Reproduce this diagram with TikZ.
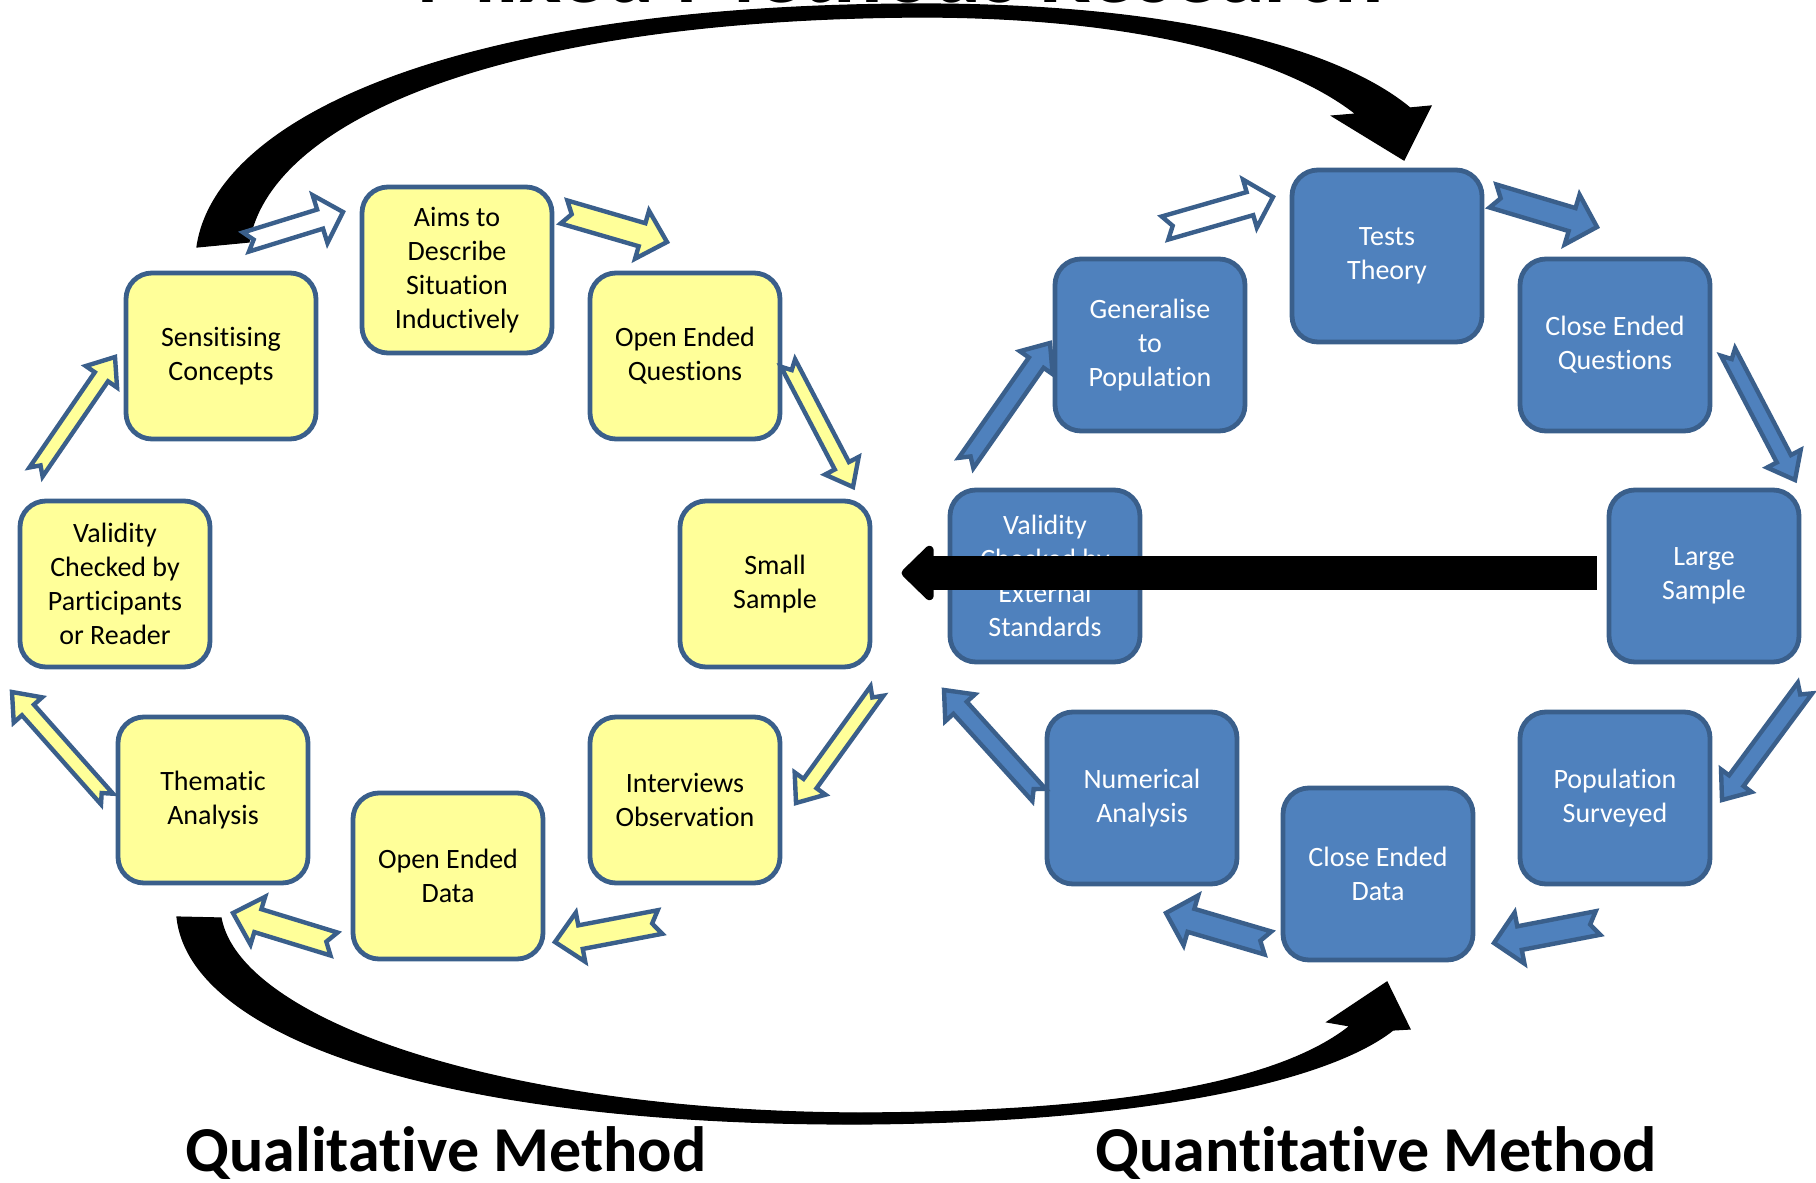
\documentclass[tikz,border=0pt]{standalone}
\usepackage{fontspec}
\setmainfont{Carlito}[Ligatures=NoCommon]
\usetikzlibrary{calc,arrows.meta}

\definecolor{edgeblue}{HTML}{3A5F8B}
\definecolor{paleyellow}{HTML}{FFFF99}
\definecolor{fillblue}{HTML}{4F81BD}

\tikzset{
  stage/.style={rectangle, rounded corners=13pt, draw=edgeblue, line width=2.4pt,
    minimum width=95pt, align=center, inner sep=0pt,
    font=\fontsize{14}{17}\selectfont},
  qual/.style={stage, fill=paleyellow, text=black, minimum height=83pt},
  quant/.style={stage, fill=fillblue, text=white, minimum height=86pt},
  cyc/.style={draw=edgeblue, line width=2.2pt, line join=miter},
  hollowarr/.style={cyc, fill=white},
  yellowarr/.style={cyc, fill=paleyellow},
  bluearr/.style={cyc, fill=fillblue},
  bigarc/.style={fill=black, draw=black, line width=0.6pt},
  heading/.style={inner sep=0pt, font=\bfseries\fontsize{32}{38}\selectfont}
}

% notched block arrow: #1 style, #2 tail, #3 tip, #4 shaft half width,
% #5 head half width, #6 head length
\newcommand\cyclearrow[6]{%
  \coordinate (ca-tail) at #2;
  \coordinate (ca-tip) at #3;
  \coordinate (ca-base) at ($(ca-tip)!#6!(ca-tail)$);
  \draw[#1] ($(ca-tail)!#4!90:(ca-tip)$)
    -- ($(ca-base)!#4!90:(ca-tip)$)
    -- ($(ca-base)!#5!90:(ca-tip)$)
    -- (ca-tip)
    -- ($(ca-base)!#5!-90:(ca-tip)$)
    -- ($(ca-base)!#4!-90:(ca-tip)$)
    -- ($(ca-tail)!#4!-90:(ca-tip)$)
    -- ($(ca-tail)!4pt!(ca-tip)$) -- cycle;
}

\begin{document}
\begin{tikzpicture}[x=0.5pt, y=-0.5pt]
\useasboundingbox (0,0) rectangle (1816,1183);

% title, mostly above the page edge
\node[inner sep=0pt, font=\bfseries\fontsize{46}{52}\selectfont, anchor=base]
  (maintitle) at (900,3) {Mixed Methods Research};

% large curved arrow over the top
\path[bigarc] (197,247) .. controls (215,120) and (450,5) .. (920,4)
  .. controls (1180,4) and (1340,50) .. (1410,108)
  -- (1431,106) -- (1404,160) -- (1332,116) -- (1356,114)
  .. controls (1290,62) and (1150,17) .. (920,17)
  .. controls (500,19) and (270,120) .. (249,242) -- cycle;

% large curved arrow along the bottom
\path[bigarc] (177,917) .. controls (190,1040) and (450,1125) .. (860,1124)
  .. controls (1150,1122) and (1330,1080) .. (1393,1030)
  -- (1410,1029) -- (1387,982) -- (1327,1022) -- (1350,1026)
  .. controls (1280,1082) and (1120,1112) .. (860,1113)
  .. controls (500,1112) and (240,1020) .. (221,918) -- cycle;

% qualitative cycle
\node[qual] (sens)   at (221,356) {Sensitising\\Concepts};
\node[qual] (aims)   at (457,270) {Aims to\\Describe\\Situation\\Inductively};
\node[qual] (oeq)    at (685,356) {Open Ended\\Questions};
\node[qual] (valq)   at (115,584) {Validity\\Checked by\\Participants\\or Reader};
\node[qual] (small)  at (775,584) {Small\\Sample};
\node[qual] (them)   at (213,800) {Thematic\\Analysis};
\node[qual] (oed)    at (448,876) {Open Ended\\Data};
\node[qual] (interv) at (685,800) {Interviews\\Observation};

% quantitative cycle
\node[quant] (tests)   at (1387,256) {Tests\\Theory};
\node[quant] (gen)     at (1150,345) {Generalise\\to\\Population};
\node[quant] (ceq)     at (1615,345) {Close Ended\\Questions};
\node[quant] (valn)    at (1045,576) {Validity\\Checked by\\External\\Standards};
\node[quant] (large)   at (1704,576) {Large\\Sample};
\node[quant] (numer)   at (1142,798) {Numerical\\Analysis};
\node[quant] (ced)     at (1378,874) {Close Ended\\Data};
\node[quant] (popsurv) at (1615,798) {Population\\Surveyed};

% arrows of the qualitative cycle
\cyclearrow{hollowarr}{(246,242)}{(343,212)}{5pt}{12.5pt}{12pt}
\cyclearrow{yellowarr}{(564,212)}{(667,242)}{6pt}{12.5pt}{13pt}
\cyclearrow{yellowarr}{(788,363)}{(853,487)}{4pt}{9.5pt}{12pt}
\cyclearrow{yellowarr}{(877,691)}{(796,803)}{4pt}{9.5pt}{12pt}
\cyclearrow{yellowarr}{(660,922)}{(555,942)}{6pt}{12.5pt}{13pt}
\cyclearrow{yellowarr}{(334,944)}{(233,913)}{6pt}{12.5pt}{13pt}
\cyclearrow{yellowarr}{(107,799)}{(12,692)}{4pt}{9.5pt}{12pt}
\cyclearrow{yellowarr}{(36,472)}{(115,357)}{4pt}{9.5pt}{12pt}

% arrows of the quantitative cycle
\cyclearrow{hollowarr}{(1165,228)}{(1273,197)}{6pt}{12.5pt}{12pt}
\cyclearrow{bluearr}{(1493,196)}{(1597,227)}{6pt}{13pt}{13pt}
\cyclearrow{bluearr}{(1728,352)}{(1795,480)}{4pt}{9.5pt}{12pt}
\cyclearrow{bluearr}{(1805,688)}{(1722,800)}{4.5pt}{9.5pt}{12pt}
\cyclearrow{bluearr}{(1598,923)}{(1494,943)}{6pt}{13pt}{13pt}
\cyclearrow{bluearr}{(1268,943)}{(1166,913)}{6pt}{13pt}{13pt}
\cyclearrow{bluearr}{(1039,795)}{(944,690)}{4.5pt}{10pt}{12pt}
\cyclearrow{bluearr}{(966,463)}{(1050,343)}{4.5pt}{10pt}{12pt}

% straight transfer arrow from the large sample back to the small sample
\coordinate (xfer-end) at ($(valn.west)+(-46,-3)$);
\draw[line width=17pt, -{Triangle[length=17pt, width=32pt, round]}]
  ($(large.west)+(-10,-3)$) -- (xfer-end);

% method headings
\node[heading, anchor=base west] (qualtitle)  at (185,1171) {Qualitative Method};
\node[heading, anchor=base west] (quanttitle) at (1095,1171) {Quantitative Method};
\end{tikzpicture}
\end{document}
